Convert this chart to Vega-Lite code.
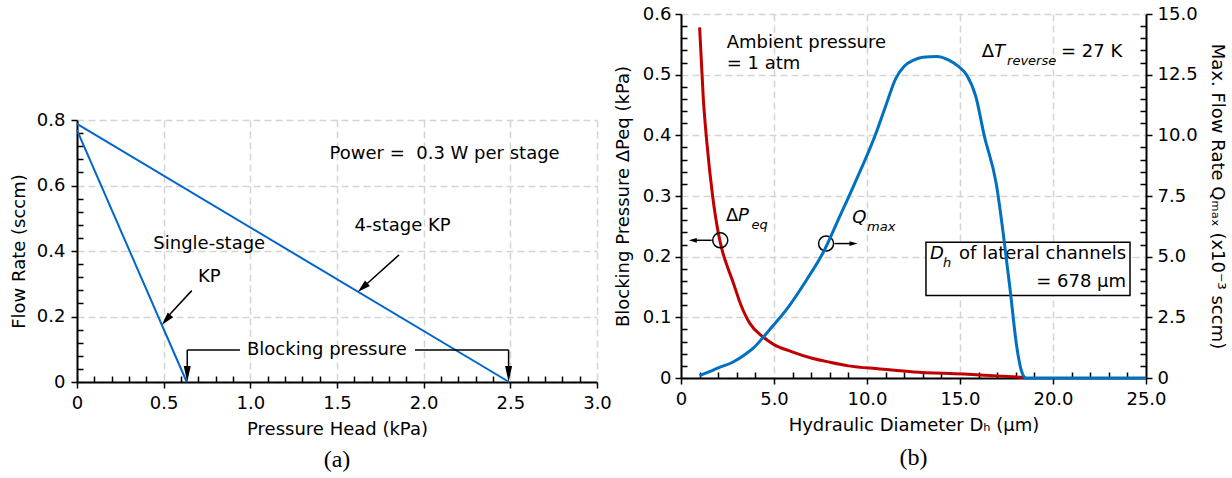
{
  "$schema": "https://vega.github.io/schema/vega-lite/v6.json",
  "padding": {"left": 10, "top": 5, "right": 5, "bottom": 5},
  "background": "white",
  "config": {
    "font": "DejaVu Sans",
    "view": {"stroke": null},
    "axis": {
      "domainColor": "black", "domainWidth": 2,
      "tickColor": "black", "tickWidth": 1.5,
      "labelFont": "DejaVu Sans", "labelFontSize": 18, "labelColor": "black",
      "titleFont": "DejaVu Sans", "titleFontSize": 18, "titleFontWeight": "normal", "titleColor": "black",
      "gridColor": "#d4d4d4", "gridDash": [7, 4], "gridWidth": 1.5,
      "labelFlush": false, "labelOverlap": false
    },
    "text": {"font": "DejaVu Sans", "fontSize": 18, "color": "black", "baseline": "middle"}
  },
  "hconcat": [
    {
      "spacing": 0,
      "vconcat": [
        {"width": 520, "height": 97, "data": {"values": []}, "mark": "point", "encoding": {}},
        {
          "width": 520, "height": 262,
          "title": {"text": "(a)", "orient": "bottom", "font": "Liberation Serif", "fontSize": 24, "fontWeight": "normal", "color": "black", "offset": 10},
          "layer": [
            {
              "data": {"values": [
                {"kp": "Single-stage", "p": 0, "q": 0.769},
                {"kp": "Single-stage", "p": 0.633, "q": 0},
                {"kp": "4-stage", "p": 0, "q": 0.788},
                {"kp": "4-stage", "p": 2.493, "q": 0}
              ]},
              "mark": {"type": "line", "color": "#0066CC", "strokeWidth": 2},
              "encoding": {
                "x": {"field": "p", "type": "quantitative", "scale": {"domain": [0, 3], "nice": false},
                  "axis": {
                    "title": "Pressure Head (kPa)",
                    "tickCount": 100,
                    "values": [0,0.1,0.2,0.3,0.4,0.5,0.6,0.7,0.8,0.9,1.0,1.1,1.2,1.3,1.4,1.5,1.6,1.7,1.8,1.9,2.0,2.1,2.2,2.3,2.4,2.5,2.6,2.7,2.8,2.9,3.0],
                    "labelExpr": "abs(datum.value*2-round(datum.value*2))>0.001 ? '' : (datum.value==0 ? '0' : format(datum.value,'.1f'))",
                    "tickSize": {"condition": {"test": "abs(datum.value*2-round(datum.value*2))>0.001", "value": -6}, "value": 6},
                    "gridOpacity": {"condition": {"test": "abs(datum.value*2-round(datum.value*2))>0.001", "value": 0}, "value": 1},
                    "labelPadding": 6, "titlePadding": 8
                  }},
                "y": {"field": "q", "type": "quantitative", "scale": {"domain": [0, 0.8], "nice": false},
                  "axis": {
                    "title": "Flow Rate (sccm)",
                    "tickCount": 100,
                    "values": [0,0.04,0.08,0.12,0.16,0.2,0.24,0.28,0.32,0.36,0.4,0.44,0.48,0.52,0.56,0.6,0.64,0.68,0.72,0.76,0.8],
                    "labelExpr": "abs(datum.value*5-round(datum.value*5))>0.001 ? '' : (datum.value==0 ? '0' : format(datum.value,'.1f'))",
                    "tickSize": {"condition": {"test": "abs(datum.value*5-round(datum.value*5))>0.001", "value": -6}, "value": 6},
                    "gridOpacity": {"condition": {"test": "abs(datum.value*5-round(datum.value*5))>0.001", "value": 0}, "value": 1},
                    "labelPadding": 6, "titlePadding": 8
                  }},
                "detail": {"field": "kp"}
              }
            },
            {
              "data": {"values": [
                {"x": 1.858, "y": 0.388, "x2": 1.66, "y2": 0.294},
                {"x": 0.662, "y": 0.279, "x2": 0.52, "y2": 0.198},
                {"x": 0.636, "y": 0.098, "x2": 0.94, "y2": 0.098},
                {"x": 1.95, "y": 0.098, "x2": 2.49, "y2": 0.098},
                {"x": 0.636, "y": 0.098, "x2": 0.636, "y2": 0.03},
                {"x": 2.49, "y": 0.098, "x2": 2.49, "y2": 0.03}
              ]},
              "mark": {"type": "rule", "color": "black", "strokeWidth": 1.5},
              "encoding": {
                "x": {"field": "x", "type": "quantitative"},
                "y": {"field": "y", "type": "quantitative"},
                "x2": {"field": "x2"},
                "y2": {"field": "y2"}
              }
            },
            {
              "data": {"values": [{"x": 1.62, "y": 0.275}]},
              "mark": {"type": "point", "shape": "M0,0L-0.28,1L0.28,1Z", "size": 676, "filled": true, "color": "black", "opacity": 1, "angle": 228},
              "encoding": {
                "x": {"field": "x", "type": "quantitative"},
                "y": {"field": "y", "type": "quantitative"}
              }
            },
            {
              "data": {"values": [{"x": 0.49, "y": 0.175}]},
              "mark": {"type": "point", "shape": "M0,0L-0.28,1L0.28,1Z", "size": 676, "filled": true, "color": "black", "opacity": 1, "angle": 221},
              "encoding": {
                "x": {"field": "x", "type": "quantitative"},
                "y": {"field": "y", "type": "quantitative"}
              }
            },
            {
              "data": {"values": [{"x": 0.636, "y": 0}, {"x": 2.49, "y": 0}]},
              "mark": {"type": "point", "shape": "M0,0L-0.22,1L0.22,1Z", "size": 1024, "filled": true, "color": "black", "opacity": 1, "angle": 180},
              "encoding": {
                "x": {"field": "x", "type": "quantitative"},
                "y": {"field": "y", "type": "quantitative"}
              }
            },
            {
              "data": {"values": [
                {"x": 1.457, "y": 0.695, "t": "Power = \u00a00.3 W per stage"}
              ]},
              "mark": {"type": "text", "align": "left"},
              "encoding": {
                "x": {"field": "x", "type": "quantitative"},
                "y": {"field": "y", "type": "quantitative"},
                "text": {"field": "t"}
              }
            },
            {
              "data": {"values": [
                {"x": 1.878, "y": 0.475, "t": "4-stage KP"},
                {"x": 0.763, "y": 0.42, "t": "Single-stage"},
                {"x": 0.763, "y": 0.322, "t": "KP"},
                {"x": 1.442, "y": 0.098, "t": "Blocking pressure"}
              ]},
              "mark": {"type": "text", "align": "center"},
              "encoding": {
                "x": {"field": "x", "type": "quantitative"},
                "y": {"field": "y", "type": "quantitative"},
                "text": {"field": "t"}
              }
            }
          ]
        }
      ]
    },
    {
      "width": 465, "height": 364,
      "title": {"text": "(b)", "orient": "bottom", "font": "Liberation Serif", "fontSize": 24, "fontWeight": "normal", "color": "black", "offset": 12},
      "layer": [
        {
          "layer": [
            {
              "data": {"values": [
                {"d": 1.0, "dp": 0.578}, {"d": 1.2, "dp": 0.46}, {"d": 1.4, "dp": 0.385}, {"d": 1.7, "dp": 0.3},
                {"d": 2.0, "dp": 0.24}, {"d": 2.2, "dp": 0.212}, {"d": 2.5, "dp": 0.183}, {"d": 2.8, "dp": 0.158},
                {"d": 3.2, "dp": 0.122}, {"d": 3.7, "dp": 0.09}, {"d": 4.4, "dp": 0.068}, {"d": 5.0, "dp": 0.055},
                {"d": 5.9, "dp": 0.044}, {"d": 7.0, "dp": 0.033}, {"d": 8.0, "dp": 0.026}, {"d": 9.0, "dp": 0.02},
                {"d": 10.7, "dp": 0.015}, {"d": 12.5, "dp": 0.010}, {"d": 15.2, "dp": 0.0066}, {"d": 17.0, "dp": 0.0035},
                {"d": 18.5, "dp": 0.001}
              ]},
              "mark": {"type": "line", "color": "#C00000", "strokeWidth": 3, "interpolate": "monotone"},
              "encoding": {
                "x": {"field": "d", "type": "quantitative", "scale": {"domain": [0, 25], "nice": false},
                  "axis": {
                    "title": "Hydraulic Diameter Dₕ (μm)",
                    "tickCount": 100,
                    "values": [0,1,2,3,4,5,6,7,8,9,10,11,12,13,14,15,16,17,18,19,20,21,22,23,24,25],
                    "labelExpr": "datum.value % 5 != 0 ? '' : (datum.value==0 ? '0' : format(datum.value,'.1f'))",
                    "tickSize": {"condition": {"test": "datum.value % 5 != 0", "value": -6}, "value": 6},
                    "gridOpacity": {"condition": {"test": "datum.value % 5 != 0", "value": 0}, "value": 1},
                    "labelPadding": 6, "titlePadding": 8
                  }},
                "y": {"field": "dp", "type": "quantitative", "scale": {"domain": [0, 0.6], "nice": false},
                  "axis": {
                    "title": "Blocking Pressure ΔPeq (kPa)",
                    "tickCount": 100,
                    "values": [0,0.02,0.04,0.06,0.08,0.1,0.12,0.14,0.16,0.18,0.2,0.22,0.24,0.26,0.28,0.3,0.32,0.34,0.36,0.38,0.4,0.42,0.44,0.46,0.48,0.5,0.52,0.54,0.56,0.58,0.6],
                    "labelExpr": "abs(datum.value*10-round(datum.value*10))>0.001 ? '' : (datum.value==0 ? '0' : format(datum.value,'.1f'))",
                    "tickSize": {"condition": {"test": "abs(datum.value*10-round(datum.value*10))>0.001", "value": -6}, "value": 6},
                    "gridOpacity": {"condition": {"test": "abs(datum.value*10-round(datum.value*10))>0.001", "value": 0}, "value": 1},
                    "labelPadding": 4, "titlePadding": 10
                  }}
              }
            },
            {
              "data": {"values": [
                {"x": 13.17, "x2": 24.14, "y": 0.1358, "y2": 0.2238}
              ]},
              "mark": {"type": "rect", "fill": "white", "stroke": "black", "strokeWidth": 1.5},
              "encoding": {
                "x": {"field": "x", "type": "quantitative"},
                "x2": {"field": "x2"},
                "y": {"field": "y", "type": "quantitative"},
                "y2": {"field": "y2"}
              }
            },
            {
              "data": {"values": [
                {"x": 1.65, "y": 0.227, "x2": 0.6, "y2": 0.227},
                {"x": 8.26, "y": 0.2216, "x2": 9.2, "y2": 0.2216}
              ]},
              "mark": {"type": "rule", "color": "black", "strokeWidth": 1.5},
              "encoding": {
                "x": {"field": "x", "type": "quantitative"},
                "y": {"field": "y", "type": "quantitative"},
                "x2": {"field": "x2"},
                "y2": {"field": "y2"}
              }
            },
            {
              "data": {"values": [{"x": 0.42, "y": 0.227}]},
              "mark": {"type": "point", "shape": "M0,0L-0.3,1L0.3,1Z", "size": 256, "filled": true, "color": "black", "opacity": 1, "angle": 270},
              "encoding": {
                "x": {"field": "x", "type": "quantitative"},
                "y": {"field": "y", "type": "quantitative"}
              }
            },
            {
              "data": {"values": [{"x": 9.49, "y": 0.2216}]},
              "mark": {"type": "point", "shape": "M0,0L-0.3,1L0.3,1Z", "size": 256, "filled": true, "color": "black", "opacity": 1, "angle": 90},
              "encoding": {
                "x": {"field": "x", "type": "quantitative"},
                "y": {"field": "y", "type": "quantitative"}
              }
            },
            {
              "data": {"values": [{"x": 2.11, "y": 0.227}, {"x": 7.8, "y": 0.2216}]},
              "mark": {"type": "point", "shape": "circle", "size": 227, "filled": false, "stroke": "black", "strokeWidth": 1.5, "opacity": 1},
              "encoding": {
                "x": {"field": "x", "type": "quantitative"},
                "y": {"field": "y", "type": "quantitative"}
              }
            },
            {
              "data": {"values": [
                {"x": 2.46, "y": 0.553, "t": "Ambient pressure"},
                {"x": 2.46, "y": 0.518, "t": "= 1 atm"},
                {"x": 16.17, "y": 0.537, "t": "Δ"},
                {"x": 20.43, "y": 0.537, "t": "= 27 K"},
                {"x": 2.42, "y": 0.267, "t": "Δ"}
              ]},
              "mark": {"type": "text", "align": "left"},
              "encoding": {
                "x": {"field": "x", "type": "quantitative"},
                "y": {"field": "y", "type": "quantitative"},
                "text": {"field": "t"}
              }
            },
            {
              "data": {"values": [
                {"x": 16.83, "y": 0.537, "t": "T"},
                {"x": 3.06, "y": 0.267, "t": "P"},
                {"x": 9.21, "y": 0.264, "t": "Q"},
                {"x": 13.39, "y": 0.205, "t": "D"}
              ]},
              "mark": {"type": "text", "align": "left", "fontStyle": "italic"},
              "encoding": {
                "x": {"field": "x", "type": "quantitative"},
                "y": {"field": "y", "type": "quantitative"},
                "text": {"field": "t"}
              }
            },
            {
              "data": {"values": [
                {"x": 17.53, "y": 0.522, "t": "reverse"},
                {"x": 3.79, "y": 0.252, "t": "eq"},
                {"x": 10.0, "y": 0.249, "t": "max"},
                {"x": 14.09, "y": 0.19, "t": "h"}
              ]},
              "mark": {"type": "text", "align": "left", "fontStyle": "italic", "fontSize": 13},
              "encoding": {
                "x": {"field": "x", "type": "quantitative"},
                "y": {"field": "y", "type": "quantitative"},
                "text": {"field": "t"}
              }
            },
            {
              "data": {"values": [
                {"x": 23.93, "y": 0.205, "t": "of lateral channels"},
                {"x": 23.93, "y": 0.158, "t": "= 678 μm"}
              ]},
              "mark": {"type": "text", "align": "right"},
              "encoding": {
                "x": {"field": "x", "type": "quantitative"},
                "y": {"field": "y", "type": "quantitative"},
                "text": {"field": "t"}
              }
            }
          ]
        },
        {
          "data": {"values": [
            {"d": 1.0, "q": 0.1}, {"d": 1.5, "q": 0.25}, {"d": 2.0, "q": 0.42}, {"d": 2.8, "q": 0.66},
            {"d": 3.5, "q": 1.0}, {"d": 3.9, "q": 1.24}, {"d": 4.4, "q": 1.66}, {"d": 5.0, "q": 2.2}, {"d": 5.7, "q": 2.85},
            {"d": 6.8, "q": 4.1}, {"d": 7.65, "q": 5.18}, {"d": 8.5, "q": 6.6}, {"d": 9.3, "q": 7.95},
            {"d": 10.43, "q": 9.98}, {"d": 11.0, "q": 11.2}, {"d": 11.55, "q": 12.35}, {"d": 12.0, "q": 12.85},
            {"d": 12.5, "q": 13.1}, {"d": 13.0, "q": 13.22}, {"d": 13.75, "q": 13.25}, {"d": 14.4, "q": 13.1},
            {"d": 14.9, "q": 12.85}, {"d": 15.35, "q": 12.5}, {"d": 15.85, "q": 11.6}, {"d": 16.3, "q": 10.0},
            {"d": 16.95, "q": 8.0}, {"d": 17.35, "q": 5.8}, {"d": 17.7, "q": 3.6}, {"d": 18.05, "q": 1.3},
            {"d": 18.3, "q": 0.3}, {"d": 18.55, "q": 0}, {"d": 25, "q": 0}
          ]},
          "mark": {"type": "line", "color": "#0070C0", "strokeWidth": 3, "interpolate": "monotone"},
          "encoding": {
            "x": {"field": "d", "type": "quantitative"},
            "y": {"field": "q", "type": "quantitative", "scale": {"domain": [0, 15], "nice": false},
              "axis": {
                "orient": "right",
                "title": "Max. Flow Rate Qₘₐₓ (x10⁻³ sccm)",
                "grid": false,
                "tickCount": 100,
                "values": [0,0.5,1,1.5,2,2.5,3,3.5,4,4.5,5,5.5,6,6.5,7,7.5,8,8.5,9,9.5,10,10.5,11,11.5,12,12.5,13,13.5,14,14.5,15],
                "labelExpr": "abs(datum.value/2.5-round(datum.value/2.5))>0.001 ? '' : (datum.value==0 ? '0' : format(datum.value,'.1f'))",
                "tickSize": {"condition": {"test": "abs(datum.value/2.5-round(datum.value/2.5))>0.001", "value": -6}, "value": 6},
                "labelPadding": 5, "titlePadding": 10
              }}
          }
        }
      ],
      "resolve": {"scale": {"y": "independent"}}
    }
  ],
  "spacing": 2
}
